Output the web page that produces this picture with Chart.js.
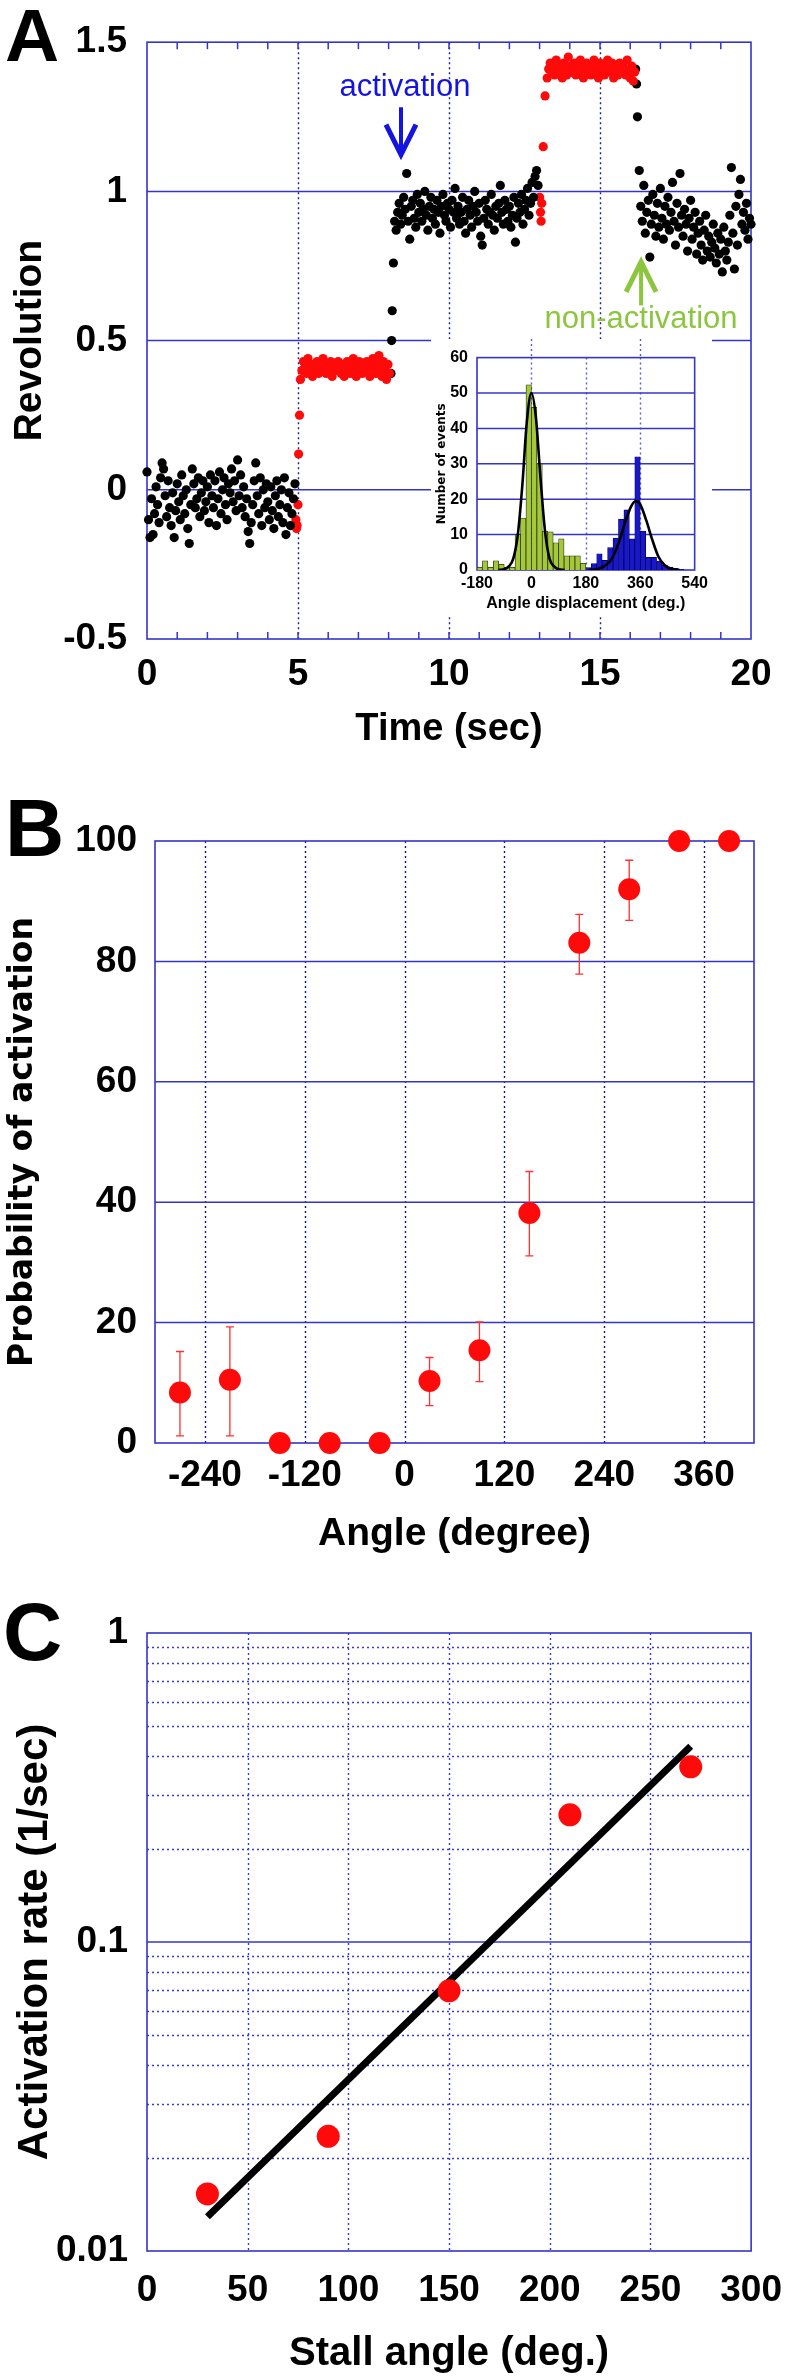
<!DOCTYPE html>
<html lang="en">
<head>
  <meta charset="UTF-8" />
  <title>Rotation, activation probability and rate</title>
  <script src="https://cdn.jsdelivr.net/npm/chart.js"></script>
  <style>
    html, body {
      margin: 0;
      padding: 0;
      background: #fff;
      overflow: hidden;
    }

    body {
      position: relative;
      width: 800px;
      height: 2376px;
      font-family: 'Liberation Sans', Arial, sans-serif;
    }

    canvas {
      position: absolute;
      left: 0;
    }

    #inset {
      left: 431px;
      top: 339px;
      background: #fff;
    }

    .tag {
      position: absolute;
      font-weight: bold;
      line-height: 1;
      color: #000;
    }
  </style>
</head>
<body>
  <canvas id="chartA" width="800" height="780" style="top:0"></canvas>
  <canvas id="inset" width="281" height="278"></canvas>
  <canvas id="chartB" width="800" height="790" style="top:780px"></canvas>
  <canvas id="chartC" width="800" height="806" style="top:1570px"></canvas>

  <div class="tag" style="left:5px; top:-2px; font-size:75px">A</div>
  <div class="tag" style="left:5px; top:787px; font-size:82px">B</div>
  <div class="tag" style="left:3px; top:1591px; font-size:82px">C</div>

  <script>
    // ---------- Panel A: revolution vs time (one value per video frame) ----------
    const frameStep = 0.05;

    const seg1Start = 0.00;   // black, rotating before the stall
    const seg1Y = [
      0.06, -0.10, -0.16, -0.03, -0.15, -0.08, 0.01, -0.05, -0.11, 0.04,
      0.09, 0.07, -0.02, -0.09, 0.03, -0.06, -0.12, -0.01, -0.16, -0.07,
      0.02, -0.04, -0.10, 0.05, -0.02, -0.08, 0.00, -0.13, -0.18, -0.05,
      0.07, 0.02, -0.06, -0.03, 0.04, -0.09, -0.01, 0.03, -0.07, -0.04,
      0.01, -0.11, 0.05, -0.02, -0.06, 0.03, -0.12, -0.03, 0.06, -0.08,
      0.00, 0.04, -0.05, -0.10, 0.02, -0.01, 0.07, -0.04, 0.03, -0.07,
      0.10, -0.02, 0.05, -0.06, 0.01, -0.09, -0.03, -0.14, -0.18, -0.11,
      -0.05, 0.03, 0.09, -0.02, -0.08, 0.04, -0.12, 0.00, -0.06, 0.02,
      -0.04, -0.10, 0.01, -0.07, -0.13, -0.02, 0.03, -0.09, -0.05, 0.00,
      -0.11, 0.04, -0.15, -0.06, -0.01, -0.12, -0.08, -0.03, 0.02
    ];

    const jump1T = [4.93, 4.95, 4.97, 5.00, 5.02, 5.05];   // red, magnetic rotation
    const jump1Y = [-0.10, -0.13, -0.12, -0.05, 0.12, 0.25];

    const seg2Start = 5.08;   // red, stalled
    const seg2Y = [
      0.37, 0.40, 0.43, 0.41, 0.39, 0.44, 0.42, 0.40, 0.38, 0.42,
      0.41, 0.43, 0.39, 0.40, 0.42, 0.44, 0.41, 0.39, 0.42, 0.40,
      0.43, 0.38, 0.41, 0.42, 0.40, 0.43, 0.41, 0.39, 0.42, 0.38,
      0.40, 0.43, 0.41, 0.39, 0.42, 0.44, 0.40, 0.38, 0.41, 0.43,
      0.42, 0.39, 0.41, 0.40, 0.43, 0.42, 0.38, 0.41, 0.44, 0.40,
      0.39, 0.42, 0.45, 0.41, 0.38, 0.43, 0.40, 0.37, 0.42, 0.39
    ];

    const rise1T = [8.08, 8.10, 8.12, 8.16];   // black, released
    const rise1Y = [0.39, 0.50, 0.60, 0.76];

    const seg3Start = 8.20;   // black, after activation
    const seg3Y = [
      0.90, 0.87, 0.93, 0.96, 0.89, 0.92, 0.98, 0.94, 1.06, 0.90,
      0.84, 0.95, 0.97, 0.91, 0.88, 0.99, 0.93, 0.96, 0.90, 0.94,
      1.00, 0.92, 0.87, 0.95, 0.98, 0.91, 0.94, 0.89, 0.97, 0.93,
      0.86, 0.95, 0.99, 0.92, 0.90, 0.96, 0.94, 0.88, 0.97, 0.93,
      1.01, 0.91, 0.95, 0.89, 0.93, 0.98, 0.90, 0.86, 0.94, 0.97,
      0.92, 0.88, 0.95, 1.00, 0.93, 0.90, 0.96, 0.85, 0.82, 0.91,
      0.97, 0.94, 0.89, 0.93, 0.99, 0.92, 0.87, 0.95, 0.91, 0.96,
      1.02, 0.93, 0.89, 0.97, 0.94, 0.90, 0.95, 0.88, 0.92, 0.98,
      0.83, 0.91, 0.96, 0.93, 0.99, 0.89, 0.94, 0.97, 1.01, 0.92,
      0.96, 1.03, 0.98, 1.05, 1.07, 1.02
    ];

    const jump2T = [13.00, 13.03, 13.05, 13.07, 13.12, 13.18];
    const jump2Y = [0.98, 0.93, 0.90, 0.96, 1.15, 1.32];

    const seg4Start = 13.25;  // red, stalled again
    const seg4Y = [
      1.38, 1.41, 1.43, 1.40, 1.42, 1.39, 1.44, 1.41, 1.40, 1.42,
      1.38, 1.43, 1.41, 1.39, 1.45, 1.42, 1.40, 1.41, 1.43, 1.39,
      1.42, 1.40, 1.44, 1.41, 1.38, 1.42, 1.43, 1.40, 1.41, 1.39,
      1.42, 1.44, 1.40, 1.41, 1.38, 1.43, 1.42, 1.40, 1.39, 1.41,
      1.44, 1.42, 1.40, 1.43, 1.38, 1.41, 1.42, 1.39, 1.43, 1.40,
      1.42, 1.41, 1.39, 1.44, 1.40, 1.38, 1.42, 1.37, 1.40
    ];

    const fall2T = [16.18, 16.21, 16.24];
    const fall2Y = [1.41, 1.36, 1.25];

    const seg5Start = 16.30;  // black, back after non-activation
    const seg5Y = [
      1.07, 0.95, 0.90, 1.02, 0.86, 0.93, 0.97, 0.78, 0.89, 0.99,
      0.92, 0.85, 0.96, 0.88, 1.01, 0.91, 0.84, 0.95, 0.89, 0.98,
      0.87, 0.93, 1.03, 0.90, 0.82, 0.96, 0.88, 1.06, 0.92, 0.85,
      0.94, 0.89, 0.80, 0.91, 0.97, 0.84, 0.88, 0.93, 0.79, 0.86,
      0.90, 0.82, 0.77, 0.87, 0.92, 0.80, 0.85, 0.78, 0.83, 0.89,
      0.81, 0.76, 0.86, 0.79, 0.84, 0.73, 0.88, 0.80, 0.77, 0.83,
      0.92, 1.08, 0.86, 0.74, 0.95, 0.82, 0.99, 1.04, 0.89, 0.93,
      0.87, 0.96, 0.84, 0.91, 0.89
    ];

    // ---------- Inset: histogram of angle displacement ----------
    const greenBins = [-171, -153, -135, -117, -99, -81, -63, -45, -27, -9, 9, 27, 45, 63, 81, 99, 117, 135, 153, 171];
    const greenCounts = [0.8, 2.6, 0.8, 2.6, 1.6, 0.8, 0.8, 10, 14.7, 52.3, 46, 30, 11, 10.8, 7.7, 8.8, 4, 4, 4, 1.9];
    const blueBins = [189, 207, 225, 243, 261, 279, 297, 315, 333, 351, 369, 387, 405, 423, 441, 459, 477, 495, 513, 531];
    const blueCounts = [0.7, 1.8, 4.6, 2.7, 6.3, 9, 14.4, 17, 8.8, 32, 11, 3.6, 3.6, 2.5, 1.4, 0.8, 0.5, 0.2, 0, 0];
    const greenFitX = [-110, -90, -75, -60, -45, -30, -15, 0, 15, 30, 45, 60, 75, 90, 110];
    const greenFitY = [0, 0.2, 1, 3.2, 10, 24, 42, 50, 43, 26, 11, 3.2, 1, 0.2, 0];
    const blueFitX = [190, 220, 250, 270, 290, 310, 330, 345, 360, 380, 400, 420, 440, 460, 490];
    const blueFitY = [0, 0.3, 1.6, 3.8, 8, 13.5, 18, 19.5, 18.5, 14, 8.5, 3.8, 1.4, 0.4, 0];

    // ---------- Panel B: probability of activation ----------
    const angleB = [-270, -210, -150, -90, -30, 30, 90, 150, 210, 270, 330, 390];
    const probB = [8.4, 10.5, 0, 0, 0, 10.3, 15.4, 38.2, 83.1, 92, 100, 100];
    const probLo = [1.2, 1.2, null, null, null, 6.2, 10.2, 31.1, 77.9, 86.8, null, null];
    const probHi = [15.2, 19.3, null, null, null, 14.2, 20.1, 45.1, 87.8, 96.8, null, null];
    const angleTicksB = [-240, -120, 0, 120, 240, 360];

    // ---------- Panel C: activation rate ----------
    const stallC = [30, 90, 150, 210, 270];
    const rateC = [0.0153, 0.0235, 0.0695, 0.258, 0.369];
    const fitStallC = [30, 270];
    const fitRateC = [0.0129, 0.43];
    const rateTicksC = [0.01, 0.1, 1];

    // ---------- helpers ----------
    const LS = "'Liberation Sans', Arial, sans-serif";
    const DV = "'DejaVu Sans', Verdana, sans-serif";
    const tickFont = { family: LS, size: 37, weight: 'bold' };
    const BLUE = '#3434c8';
    const NAVY = '#1c1c9c';
    const RED = '#ff0a0a';
    const noGrid = { display: false, drawTicks: false };

    const pts = (xs, ys) => xs.map((x, i) => ({ x: x, y: ys[i] }));
    const trace = (t0, ys) => ys.map((y, i) => ({ x: +(t0 + i * frameStep).toFixed(2), y: y }));

    function framePlugin(cfg) {
      return {
        id: 'frame',
        beforeDatasetsDraw(chart) {
          const { ctx, chartArea: a, scales: { x, y } } = chart;
          const seg = (x0, y0, x1, y1) => { ctx.beginPath(); ctx.moveTo(x0, y0); ctx.lineTo(x1, y1); ctx.stroke(); };
          ctx.save();
          ctx.lineWidth = 1.4;
          ctx.strokeStyle = cfg.dotColor || NAVY;
          ctx.setLineDash([2, 3]);
          (cfg.dotX || []).forEach(v => {
            const p = Math.round(x.getPixelForValue(v)) + 0.5;
            seg(p, a.top, p, a.bottom);
          });
          (cfg.dotXExt || []).forEach(v => {
            const p = Math.round(x.getPixelForValue(v)) + 0.5;
            seg(p, 0, p, a.top);
          });
          (cfg.dotY || []).forEach(v => {
            const p = Math.round(y.getPixelForValue(v)) + 0.5;
            seg(a.left, p, a.right, p);
          });
          ctx.setLineDash([]);
          ctx.strokeStyle = BLUE;
          ctx.lineWidth = 1.5;
          (cfg.solidY || []).forEach(v => {
            const p = y.getPixelForValue(v);
            seg(a.left, p, a.right, p);
          });
          (cfg.minorX || []).forEach(v => {
            const p = x.getPixelForValue(v);
            seg(p, a.top, p, a.top + 7);
            seg(p, a.bottom, p, a.bottom - 7);
          });
          ctx.lineWidth = 1.6;
          ctx.strokeRect(a.left, a.top, a.right - a.left, a.bottom - a.top);
          ctx.restore();
        }
      };
    }

    const dot = (data, color, r) => ({
      data: data,
      backgroundColor: color,
      pointBackgroundColor: color,
      pointBorderWidth: 0,
      pointRadius: r,
      showLine: false,
      clip: false
    });

    const axisTitle = (text, family, size, pad) => ({
      display: true,
      text: text,
      color: '#000',
      font: { family: family, size: size, weight: 'bold', lineHeight: 1 },
      padding: pad
    });

    Chart.defaults.animation = false;
    Chart.defaults.color = '#000';

    // ---------- Panel A ----------
    const notesA = {
      id: 'notesA',
      afterDatasetsDraw(chart) {
        const { ctx, scales: { x, y } } = chart;
        const arrow = (t, from, to, color) => {
          const px = x.getPixelForValue(t);
          const y0 = y.getPixelForValue(from);
          const y1 = y.getPixelForValue(to);
          const dir = Math.sign(y1 - y0);
          ctx.strokeStyle = color;
          ctx.lineWidth = 4;
          ctx.beginPath(); ctx.moveTo(px, y0); ctx.lineTo(px, y1 - dir * 3); ctx.stroke();
          ctx.lineWidth = 5;
          ctx.lineJoin = 'miter';
          ctx.beginPath();
          ctx.moveTo(px - 15, y1 - dir * 30);
          ctx.lineTo(px, y1);
          ctx.lineTo(px + 15, y1 - dir * 30);
          ctx.stroke();
        };
        ctx.save();
        ctx.font = "31px " + LS;
        ctx.textAlign = 'center';
        ctx.textBaseline = 'middle';
        ctx.fillStyle = '#1414e0';
        ctx.fillText('activation', x.getPixelForValue(8.54), y.getPixelForValue(1.349));
        arrow(8.41, 1.282, 1.123, '#1414e0');
        ctx.fillStyle = '#8cc63f';
        ctx.fillText('non-activation', x.getPixelForValue(16.36), y.getPixelForValue(0.571));
        arrow(16.36, 0.618, 0.764, '#8cc63f');
        ctx.restore();
      }
    };

    new Chart('chartA', {
      type: 'scatter',
      data: {
        datasets: [
          dot(trace(seg1Start, seg1Y), '#000', 4.6),
          dot(pts(jump1T, jump1Y), RED, 4.6),
          dot(trace(seg2Start, seg2Y), RED, 4.6),
          dot(pts(rise1T, rise1Y), '#000', 4.6),
          dot(trace(seg3Start, seg3Y), '#000', 4.6),
          dot(pts(jump2T, jump2Y), RED, 4.6),
          dot(trace(seg4Start, seg4Y), RED, 4.6),
          dot(pts(fall2T, fall2Y), '#000', 4.6),
          dot(trace(seg5Start, seg5Y), '#000', 4.6)
        ]
      },
      options: {
        responsive: false,
        layout: { padding: { left: 0, right: 49, top: 36, bottom: 0 } },
        plugins: { legend: { display: false }, tooltip: { enabled: false } },
        scales: {
          x: {
            type: 'linear', min: 0, max: 20,
            afterFit: s => { s.height = 141; },
            ticks: { stepSize: 5, padding: 14, font: tickFont, color: '#000', maxRotation: 0 },
            grid: noGrid, border: { display: false },
            title: axisTitle('Time (sec)', LS, 38, { top: 0, bottom: 31 })
          },
          y: {
            min: -0.5, max: 1.5,
            afterFit: s => { s.width = 147; },
            ticks: { stepSize: 0.5, padding: 20, font: tickFont, color: '#000', callback: v => String(v) },
            grid: noGrid, border: { display: false },
            title: axisTitle('Revolution', LS, 39, { top: 11, bottom: 0 })
          }
        }
      },
      plugins: [framePlugin({ dotX: [5, 10, 15], solidY: [0, 0.5, 1], minorX: [1, 2, 3, 4, 5, 6, 7, 8, 9, 10, 11, 12, 13, 14, 15, 16, 17, 18, 19] }), notesA]
    });

    // ---------- Inset ----------
    const insetTick = { family: LS, size: 16, weight: 'bold' };
    new Chart('inset', {
      type: 'bar',
      data: {
        datasets: [
          { type: 'line', data: pts(greenFitX, greenFitY), borderColor: '#000', borderWidth: 2.6, pointRadius: 0, cubicInterpolationMode: 'monotone', order: 0 },
          { type: 'line', data: pts(blueFitX, blueFitY), borderColor: '#000', borderWidth: 2.6, pointRadius: 0, cubicInterpolationMode: 'monotone', order: 0 },
          { data: pts(greenBins, greenCounts), backgroundColor: '#a5c83a', borderColor: '#2a3a10', borderWidth: 0.8, barPercentage: 1, categoryPercentage: 1, grouped: false, order: 1 },
          { data: pts(blueBins, blueCounts), backgroundColor: '#1818c8', borderColor: '#00005a', borderWidth: 0.8, barPercentage: 1, categoryPercentage: 1, grouped: false, order: 1 }
        ]
      },
      options: {
        responsive: false,
        layout: { padding: { left: 0, right: 16, top: 12, bottom: 0 } },
        plugins: { legend: { display: false }, tooltip: { enabled: false } },
        scales: {
          x: {
            type: 'linear', min: -180, max: 540, offset: false,
            afterFit: s => { s.height = 47; },
            ticks: { stepSize: 180, padding: 4, font: insetTick, color: '#000', maxRotation: 0 },
            grid: noGrid, border: { display: false },
            title: axisTitle('Angle displacement (deg.)', LS, 16, { top: 0, bottom: 5 })
          },
          y: {
            min: 0, max: 60,
            afterFit: s => { s.width = 46; },
            ticks: { stepSize: 10, padding: 9, font: insetTick, color: '#000' },
            grid: noGrid, border: { display: false },
            title: axisTitle('Number of events', DV, 12, { top: 5, bottom: 0 })
          }
        }
      },
      plugins: [framePlugin({ dotX: [0, 180, 360], dotXExt: [0, 360], dotColor: '#5a5ad8', solidY: [10, 20, 30, 40, 50] })]
    });

    // ---------- Panel B ----------
    const errorBarsB = {
      id: 'errorBarsB',
      beforeDatasetsDraw(chart) {
        const { ctx, scales: { x, y } } = chart;
        ctx.save();
        ctx.strokeStyle = '#ff3030';
        ctx.lineWidth = 1.3;
        angleB.forEach((a, i) => {
          if (probLo[i] == null) return;
          const px = x.getPixelForValue(a);
          const lo = y.getPixelForValue(probLo[i]);
          const hi = y.getPixelForValue(probHi[i]);
          ctx.beginPath();
          ctx.moveTo(px, lo); ctx.lineTo(px, hi);
          ctx.moveTo(px - 4, lo); ctx.lineTo(px + 4, lo);
          ctx.moveTo(px - 4, hi); ctx.lineTo(px + 4, hi);
          ctx.stroke();
        });
        ctx.restore();
      }
    };

    new Chart('chartB', {
      type: 'scatter',
      data: { datasets: [dot(pts(angleB, probB), RED, 11)] },
      options: {
        responsive: false,
        layout: { padding: { left: 0, right: 46, top: 61, bottom: 0 } },
        plugins: { legend: { display: false }, tooltip: { enabled: false } },
        scales: {
          x: {
            type: 'linear', min: -300, max: 420,
            afterBuildTicks: s => { s.ticks = angleTicksB.map(v => ({ value: v })); },
            afterFit: s => { s.height = 127; },
            ticks: { padding: 11, font: tickFont, color: '#000', maxRotation: 0, autoSkip: false },
            grid: noGrid, border: { display: false },
            title: axisTitle('Angle (degree)', LS, 39, { top: 0, bottom: 16 })
          },
          y: {
            min: 0, max: 100,
            afterFit: s => { s.width = 155; },
            ticks: { stepSize: 20, padding: 18, font: tickFont, color: '#000' },
            grid: noGrid, border: { display: false },
            title: axisTitle('Probability of activation', DV, 33, { top: 7, bottom: 0 })
          }
        }
      },
      plugins: [framePlugin({ dotX: angleTicksB, solidY: [20, 40, 60, 80], dotColor: '#14148c' }), errorBarsB]
    });

    // ---------- Panel C ----------
    new Chart('chartC', {
      type: 'scatter',
      data: {
        datasets: [
          Object.assign(dot(pts(stallC, rateC), RED, 11.5), { order: 1 }),
          { data: pts(fitStallC, fitRateC), showLine: true, borderColor: '#000', borderWidth: 7, pointRadius: 0, order: 2 }
        ]
      },
      options: {
        responsive: false,
        layout: { padding: { left: 0, right: 35, top: 63, bottom: 0 } },
        plugins: { legend: { display: false }, tooltip: { enabled: false } },
        scales: {
          x: {
            type: 'linear', min: 0, max: 300,
            afterFit: s => { s.height = 125; },
            ticks: { stepSize: 50, padding: 18, font: tickFont, color: '#000', maxRotation: 0, autoSkip: false },
            grid: noGrid, border: { display: false },
            title: axisTitle('Stall angle (deg.)', LS, 40, { top: 0, bottom: 2 })
          },
          y: {
            type: 'logarithmic', min: 0.01, max: 1,
            afterBuildTicks: s => { s.ticks = rateTicksC.map(v => ({ value: v })); },
            afterFit: s => { s.width = 147; },
            ticks: { padding: 19, font: tickFont, color: '#000', callback: v => String(v) },
            grid: noGrid, border: { display: false },
            title: axisTitle('Activation rate (1/sec)', LS, 42, { top: 14, bottom: 0 })
          }
        }
      },
      plugins: [framePlugin({
        dotX: [50, 100, 150, 200, 250],
        dotY: [0.02, 0.03, 0.04, 0.05, 0.06, 0.07, 0.08, 0.09, 0.2, 0.3, 0.4, 0.5, 0.6, 0.7, 0.8, 0.9],
        dotColor: '#3a3ad0',
        solidY: [0.1]
      })]
    });
  </script>
</body>
</html>
